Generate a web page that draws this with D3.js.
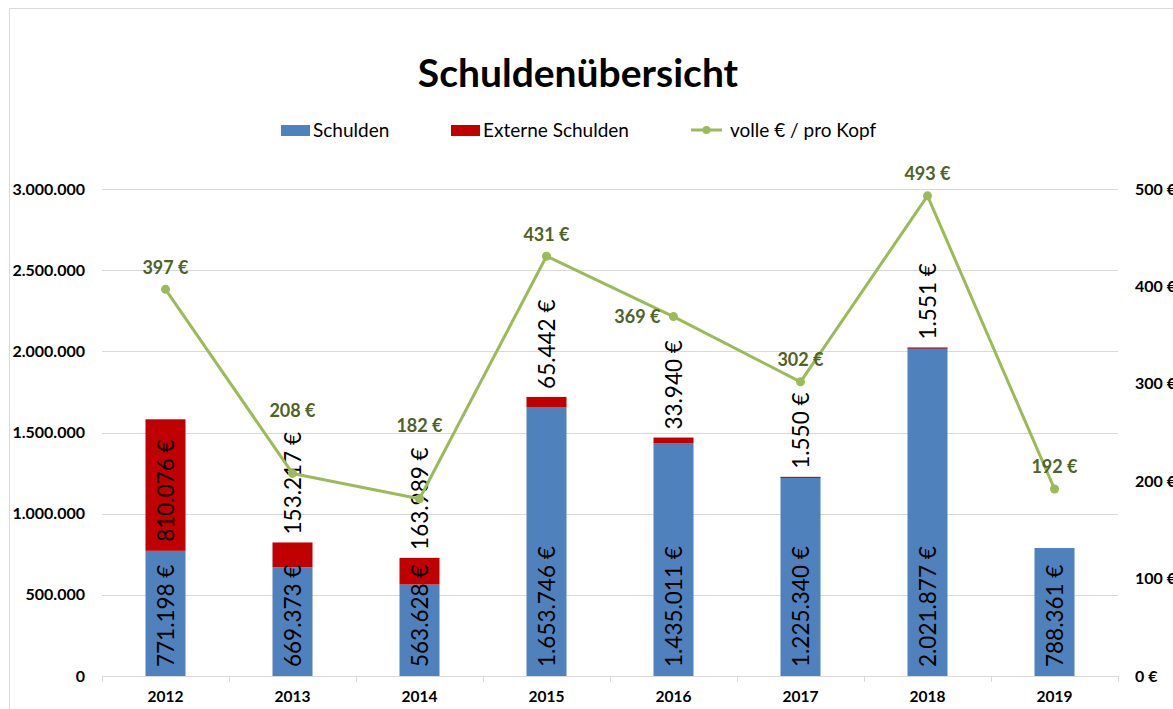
<!DOCTYPE html>
<html><head><meta charset="utf-8">
<script src="https://cdn.jsdelivr.net/npm/d3@7"></script>
<style>
html,body{margin:0;padding:0;background:#fff;}
text{font-family:Lato,"Open Sans",sans-serif;}
</style></head>
<body>
<svg id="chart" width="1173" height="709"></svg>
<script>
const years = ["2012","2013","2014","2015","2016","2017","2018","2019"];
const schulden = [771198, 669373, 563628, 1653746, 1435011, 1225340, 2021877, 788361];
const externe = [810076, 153217, 163989, 65442, 33940, 1550, 1551, 0];
const proKopf = [397, 208, 182, 431, 369, 302, 493, 192];
const leftTicks = [0, 500000, 1000000, 1500000, 2000000, 2500000, 3000000];
const rightTicks = [0, 100, 200, 300, 400, 500];
const lineLabelPlace = ["above","above","above","above","left","above","above","above"];

const svg = d3.select("#chart");
const W = 1173, H = 709;
const plot = {l: 102, r: 1118, t: 189, b: 676};

const deFmt = d3.formatLocale({decimal: ",", thousands: ".", grouping: [3], currency: ["", " €"]});
const fmtNum = deFmt.format(",.0f");
const fmtEur = v => fmtNum(v) + " €";

// chart border
svg.append("path").attr("d", `M9.5,${H} L9.5,8.5 L${W},8.5`)
  .attr("fill","none").attr("stroke","#d9d9d9").attr("stroke-width",1);

const x = d3.scaleBand().domain(years).range([plot.l, plot.r]).padding(0);
const yL = d3.scaleLinear().domain([0, 3000000]).range([plot.b, plot.t]);
const yR = d3.scaleLinear().domain([0, 500]).range([plot.b, plot.t]);
const barW = x.bandwidth() * 0.315;
const cx = d => x(d) + x.bandwidth() / 2;

// gridlines
svg.append("g").selectAll("line").data(leftTicks.filter(t => t > 0)).join("line")
  .attr("x1", plot.l).attr("x2", plot.r)
  .attr("y1", d => Math.round(yL(d)) + 0.5).attr("y2", d => Math.round(yL(d)) + 0.5)
  .attr("stroke", "#d9d9d9").attr("stroke-width", 1);

// left axis
const axL = svg.append("g").attr("transform", `translate(${plot.l},0)`)
  .call(d3.axisLeft(yL).tickValues(leftTicks).tickFormat(fmtNum).tickSize(0).tickPadding(17));
axL.select(".domain").remove();
axL.selectAll("text").attr("font-family", "Lato").attr("font-weight", "bold").attr("font-size", 16).attr("fill", "#000");

// right axis
const axR = svg.append("g").attr("transform", `translate(${plot.r},0)`)
  .call(d3.axisRight(yR).tickValues(rightTicks).tickFormat(d => fmtNum(d) + " €").tickSize(0).tickPadding(17));
axR.select(".domain").remove();
axR.selectAll("text").attr("font-family", "Lato").attr("font-weight", "bold").attr("font-size", 16).attr("fill", "#000");

// x axis
const axX = svg.append("g").attr("transform", `translate(0,${plot.b + 0.5})`)
  .call(d3.axisBottom(x).tickSize(0).tickPadding(14));
axX.select(".domain").attr("stroke", "#d9d9d9").attr("d", `M${plot.l},0H${plot.r}`);
axX.selectAll("text").attr("font-family", "Lato").attr("font-weight", "bold").attr("font-size", 15.5).attr("fill", "#000");
svg.append("g").selectAll("line").data(d3.range(years.length + 1)).join("line")
  .attr("x1", i => Math.round(plot.l + i * x.step()) + 0.5).attr("x2", i => Math.round(plot.l + i * x.step()) + 0.5)
  .attr("y1", plot.b).attr("y2", plot.b + 6).attr("stroke", "#d9d9d9");

// stacked bars
const rows = years.map((y, i) => ({year: y, s: schulden[i], e: externe[i], p: proKopf[i]}));
const gBars = svg.append("g");
gBars.selectAll("rect.s").data(rows).join("rect").attr("class","s")
  .attr("x", d => cx(d.year) - barW / 2).attr("width", barW)
  .attr("y", d => yL(d.s)).attr("height", d => yL(0) - yL(d.s))
  .attr("fill", "#4f81bd");
gBars.selectAll("rect.e").data(rows.filter(d => d.e > 0)).join("rect").attr("class","e")
  .attr("x", d => cx(d.year) - barW / 2).attr("width", barW)
  .attr("y", d => yL(d.s + d.e)).attr("height", d => Math.max(1, yL(d.s) - yL(d.s + d.e)))
  .attr("fill", "#c00000");

// bar labels (rotated): inside base if it fits, otherwise just above the segment
const labelFont = 22.5;
const pad = 9;
const gLab = svg.append("g");
gLab.selectAll("text.s").data(rows).join("text").attr("class","s")
  .attr("transform", d => `translate(${cx(d.year)},${yL(0) - pad}) rotate(-90)`)
  .attr("dy", "0.36em").attr("text-anchor", "start")
  .attr("font-size", labelFont).attr("fill", "#000")
  .text(d => fmtEur(d.s));
const redLabels = gLab.selectAll("text.e").data(rows.filter(d => d.e > 0)).join("text").attr("class","e")
  .attr("dy", "0.36em").attr("text-anchor", "start")
  .attr("font-size", labelFont).attr("fill", "#000")
  .text(d => fmtEur(d.e));
const redBox = {};
redLabels.each(function(d){
  const len = Math.max(this.getComputedTextLength(), fmtEur(d.e).length * labelFont * 0.47);
  const segH = yL(d.s) - yL(d.s + d.e);
  const start = (segH >= len + 2 * pad) ? yL(d.s) - pad : yL(d.s + d.e) - 8;
  d3.select(this).attr("transform", `translate(${cx(d.year)},${start}) rotate(-90)`);
  redBox[d.year] = [start - len, start];
});

// line
const line = d3.line().x(d => cx(d.year)).y(d => yR(d.p));
svg.append("path").datum(rows).attr("d", line)
  .attr("fill", "none").attr("stroke", "#9bbb59").attr("stroke-width", 3).attr("stroke-linejoin", "round");
svg.append("g").selectAll("circle").data(rows).join("circle")
  .attr("cx", d => cx(d.year)).attr("cy", d => yR(d.p)).attr("r", 4.5).attr("fill", "#9bbb59");

// line labels
svg.append("g").selectAll("text").data(rows).join("text")
  .attr("font-size", 18).attr("font-weight", "bold").attr("fill", "#4f6228")
  .attr("dy", "0.36em")
  .attr("text-anchor", (d, i) => lineLabelPlace[i] === "left" ? "end" : "middle")
  .attr("x", (d, i) => lineLabelPlace[i] === "left" ? cx(d.year) - 13 : cx(d.year))
  .attr("y", (d, i) => {
    const py = yR(d.p);
    if (lineLabelPlace[i] === "left") return py;
    let ly = py - 22;
    const b = redBox[d.year];
    if (b && ly + 10 > b[0] && ly - 10 < b[1]) ly = b[0] - 22;
    return ly;
  })
  .text(d => fmtNum(d.p) + " €");

// title
svg.append("text").attr("x", 578).attr("y", 87).attr("text-anchor", "middle")
  .attr("font-size", 39).attr("font-weight", "bold").attr("fill", "#000")
  .text("Schuldenübersicht");

// legend
const legend = [
  {name: "Schulden", type: "rect", color: "#4f81bd", x: 281},
  {name: "Externe Schulden", type: "rect", color: "#c00000", x: 451},
  {name: "volle € / pro Kopf", type: "line", color: "#9bbb59", x: 691}
];
const gLeg = svg.append("g");
const ly0 = 130;
legend.forEach(it => {
  if (it.type === "rect") {
    gLeg.append("rect").attr("x", it.x).attr("y", ly0 - 5).attr("width", 29).attr("height", 11).attr("fill", it.color);
  } else {
    gLeg.append("line").attr("x1", it.x).attr("x2", it.x + 31).attr("y1", ly0).attr("y2", ly0)
      .attr("stroke", it.color).attr("stroke-width", 3);
    gLeg.append("circle").attr("cx", it.x + 15.5).attr("cy", ly0).attr("r", 4).attr("fill", it.color);
  }
  gLeg.append("text").attr("x", it.x + (it.type === "rect" ? 32 : 39)).attr("y", ly0).attr("dy", "0.36em")
    .attr("font-size", 19).attr("fill", "#000").text(it.name);
});
</script>
</body></html>
